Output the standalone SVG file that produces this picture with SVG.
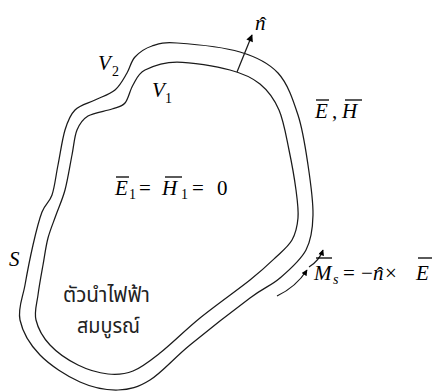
<svg xmlns="http://www.w3.org/2000/svg" width="441" height="392" viewBox="0 0 441 392">
<style>
.c{fill:none;stroke:#1a1a1a;stroke-width:1.25}
.a{fill:none;stroke:#1a1a1a;stroke-width:1.25}
.ov{stroke:#000;stroke-width:1.3}
</style>
<defs>
<marker id="ah" viewBox="0 0 10 10" refX="9" refY="5" markerWidth="9" markerHeight="7" markerUnits="userSpaceOnUse" orient="auto">
<path d="M0,0 L10,5 L0,10 Z" fill="#000"/>
</marker>
<marker id="ah2" viewBox="0 0 10 10" refX="9" refY="5" markerWidth="7" markerHeight="6" markerUnits="userSpaceOnUse" orient="auto">
<path d="M0,0 L10,5 L0,10 Z" fill="#000"/>
</marker>
</defs>
<g id="outer-surface">
<path class="c" d="M177,43 C191.7,44 223.2,47 240,52 C256.8,57 268.3,62.5 278,73 C287.7,83.5 293,99.7 298,115 C303,130.3 305.5,148.3 308,165 C310.5,181.7 313.3,200.8 313,215 C312.7,229.2 311.5,239.5 306,250 C300.5,260.5 289.3,270 280,278 C270.7,286 265,286.8 250,298 C235,309.2 206.7,331.3 190,345 C173.3,358.7 162,372.5 150,380 C138,387.5 129.7,389.7 118,390 C106.3,390.3 93,387.8 80,382 C67,376.2 50,365.3 40,355 C30,344.7 22.5,331.7 20,320 C17.5,308.3 22.8,297.5 25,285 C27.2,272.5 30.2,257.2 33,245 C35.8,232.8 38.8,220.3 42,212 C45.2,203.7 49.3,202.8 52,195 C54.7,187.2 55.8,175.8 58,165 C60.2,154.2 62.2,139.2 65,130 C67.8,120.8 70,115 75,110 C80,105 88.3,103.3 95,100 C101.7,96.7 109.7,94.5 115,90 C120.3,85.5 123.7,78.5 127,73 C130.3,67.5 130.8,61.5 135,57 C139.2,52.5 145,48.3 152,46 C159,43.7 162.3,42 177,43 Z"/>
</g>
<g id="inner-surface">
<path class="c" d="M177,62 C191.2,62 216.2,66.3 230,70 C243.8,73.7 251.8,77.3 260,84 C268.2,90.7 274.2,99 279,110 C283.8,121 286.2,136.7 289,150 C291.8,163.3 294.5,178.7 296,190 C297.5,201.3 298.7,209.7 298,218 C297.3,226.3 295.8,233.3 292,240 C288.2,246.7 282,251.3 275,258 C268,264.7 262.5,270 250,280 C237.5,290 215,305.8 200,318 C185,330.2 171.2,344.2 160,353 C148.8,361.8 141.7,367.5 133,371 C124.3,374.5 117.2,375 108,374 C98.8,373 87.7,369.8 78,365 C68.3,360.2 57,352.5 50,345 C43,337.5 38,328.3 36,320 C34,311.7 36.8,304.2 38,295 C39.2,285.8 41.3,274.5 43,265 C44.7,255.5 45.8,246.3 48,238 C50.2,229.7 53.2,223 56,215 C58.8,207 62.3,200 65,190 C67.7,180 70,165 72,155 C74,145 74.3,136.5 77,130 C79.7,123.5 82.2,119.5 88,116 C93.8,112.5 105.8,111.2 112,109 C118.2,106.8 121.5,107 125,103 C128.5,99 129.7,90.5 133,85 C136.3,79.5 137.7,73.8 145,70 C152.3,66.2 162.8,62 177,62 Z"/>
</g>
<g id="connectors">
<line class="a" x1="237" y1="72" x2="252" y2="35" marker-end="url(#ah)"/>
<path class="a" d="M277,296 Q296,287 307,270" marker-end="url(#ah2)"/>
<path class="a" d="M309,267 Q319,261 323,250" marker-end="url(#ah2)"/>
</g>
<g id="label-n">
<text x="255" y="30" font-family="Liberation Serif" font-style="italic" font-size="21">n</text>
<text x="263" y="32" font-family="Liberation Serif" font-size="21" text-anchor="middle">ˆ</text>
</g>
<g id="label-V2">
<text x="98" y="70" font-family="Liberation Serif" font-style="italic" font-size="21">V</text>
<text x="112" y="76" font-family="Liberation Serif" font-size="14">2</text>
</g>
<g id="label-V1">
<text x="152" y="97" font-family="Liberation Serif" font-style="italic" font-size="21">V</text>
<text x="165" y="103" font-family="Liberation Serif" font-size="14">1</text>
</g>
<g id="label-EH">
<text x="315" y="118" font-family="Liberation Serif" font-style="italic" font-size="21">E</text>
<text x="332" y="118" font-family="Liberation Serif" font-size="21">,</text>
<text x="342" y="118" font-family="Liberation Serif" font-style="italic" font-size="21">H</text>
<line class="ov" x1="316" y1="100" x2="329" y2="100"/>
<line class="ov" x1="345" y1="100" x2="362" y2="100"/>
</g>
<g id="label-E1H1">
<text x="115" y="195" font-family="Liberation Serif" font-style="italic" font-size="21">E</text>
<text x="129" y="199" font-family="Liberation Serif" font-size="14">1</text>
<text x="139" y="195" font-family="Liberation Serif" font-size="21">=</text>
<text x="162" y="195" font-family="Liberation Serif" font-style="italic" font-size="21">H</text>
<text x="181" y="199" font-family="Liberation Serif" font-size="14">1</text>
<text x="192" y="195" font-family="Liberation Serif" font-size="21">=</text>
<text x="217" y="195" font-family="Liberation Serif" font-size="21">0</text>
<line class="ov" x1="116" y1="177" x2="129" y2="177"/>
<line class="ov" x1="165" y1="177" x2="182" y2="177"/>
</g>
<g id="label-S">
<text x="9" y="266" font-family="Liberation Serif" font-style="italic" font-size="21">S</text>
</g>
<g id="label-Ms">
<text x="314" y="280" font-family="Liberation Serif" font-style="italic" font-size="21">M</text>
<text x="333" y="284" font-family="Liberation Serif" font-style="italic" font-size="14">s</text>
<text x="343" y="280" font-family="Liberation Serif" font-size="21">=</text>
<text x="361" y="280" font-family="Liberation Serif" font-size="21">−</text>
<text x="373" y="280" font-family="Liberation Serif" font-style="italic" font-size="21">n</text>
<text x="380" y="282" font-family="Liberation Serif" font-size="21" text-anchor="middle">ˆ</text>
<text x="385" y="280" font-family="Liberation Serif" font-size="21">×</text>
<text x="416" y="280" font-family="Liberation Serif" font-style="italic" font-size="21">E</text>
<line class="ov" x1="316" y1="258" x2="332" y2="258"/>
<line class="ov" x1="418" y1="258" x2="432" y2="258"/>
</g>
<g id="label-conductor">
<text x="63" y="302" font-family="Noto Sans Thai, sans-serif" font-size="21" fill="#222" textLength="87" lengthAdjust="spacingAndGlyphs">ตัวนำไฟฟ้า</text>
<text x="77" y="333" font-family="Noto Sans Thai, sans-serif" font-size="21" fill="#222" textLength="63" lengthAdjust="spacingAndGlyphs">สมบูรณ์</text>
</g>
</svg>
